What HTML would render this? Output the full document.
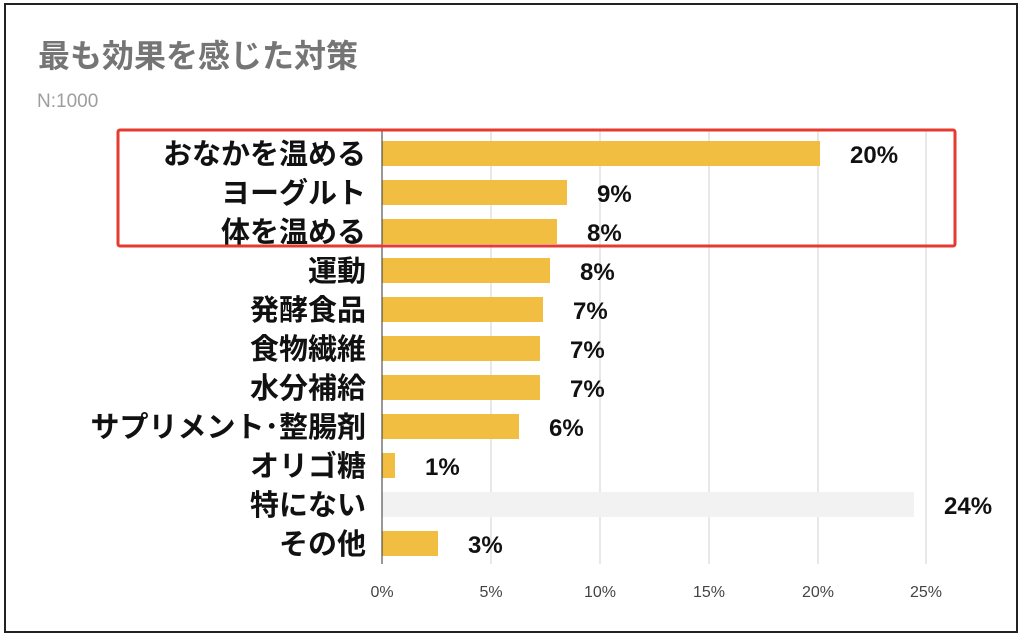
<!DOCTYPE html>
<html><head><meta charset="utf-8"><style>
html,body{margin:0;padding:0;background:#fff;}
svg{display:block;}
text{font-family:"Liberation Sans","Noto Sans CJK JP",sans-serif;}
</style></head><body>
<svg width="1024" height="638" viewBox="0 0 1024 638" xmlns="http://www.w3.org/2000/svg">
<rect x="0" y="0" width="1024" height="638" fill="#fff"/>
<rect x="5" y="4" width="1012" height="628" fill="none" stroke="#222" stroke-width="2"/>
<text x="38" y="67" font-size="32" font-weight="bold" fill="#757575">最も効果を感じた対策</text>
<text x="37" y="107" font-size="19" fill="#9e9e9e">N:1000</text>
<g stroke="#d0d0d0" stroke-width="1">
<line x1="491" y1="131" x2="491" y2="564"/>
<line x1="600" y1="131" x2="600" y2="564"/>
<line x1="709" y1="131" x2="709" y2="564"/>
<line x1="818" y1="131" x2="818" y2="564"/>
<line x1="926" y1="131" x2="926" y2="564"/>
</g>
<g fill="#f1be42">
<rect x="382" y="141" width="438" height="25"/>
<rect x="382" y="180" width="185" height="25"/>
<rect x="382" y="219" width="175" height="25"/>
<rect x="382" y="258" width="168" height="25"/>
<rect x="382" y="297" width="161" height="25"/>
<rect x="382" y="336" width="158" height="25"/>
<rect x="382" y="375" width="158" height="25"/>
<rect x="382" y="414" width="137" height="25"/>
<rect x="382" y="453" width="13" height="25"/>
<rect x="382" y="531" width="56" height="25"/>
</g>
<rect x="382" y="492" width="532" height="25" fill="#f2f2f2"/>
<line x1="382" y1="131" x2="382" y2="564" stroke="#333" stroke-width="1"/>
<g font-size="29" font-weight="bold" fill="#111" text-anchor="end">
<text x="366" y="164">おなかを温める</text>
<text x="366" y="203">ヨーグルト</text>
<text x="366" y="242">体を温める</text>
<text x="366" y="281">運動</text>
<text x="366" y="320">発酵食品</text>
<text x="366" y="359">食物繊維</text>
<text x="366" y="398">水分補給</text>
<text x="366" y="437">サプリメント･整腸剤</text>
<text x="366" y="476">オリゴ糖</text>
<text x="366" y="515">特にない</text>
<text x="366" y="554">その他</text>
</g>
<g font-size="24" font-weight="bold" fill="#111">
<text x="850" y="163">20%</text>
<text x="597" y="202">9%</text>
<text x="587" y="241">8%</text>
<text x="580" y="280">8%</text>
<text x="573" y="319">7%</text>
<text x="570" y="358">7%</text>
<text x="570" y="397">7%</text>
<text x="549" y="436">6%</text>
<text x="425" y="475">1%</text>
<text x="944" y="514">24%</text>
<text x="468" y="553">3%</text>
</g>
<g font-size="16" fill="#444" text-anchor="middle">
<text x="382" y="597">0%</text>
<text x="491" y="597">5%</text>
<text x="600" y="597">10%</text>
<text x="709" y="597">15%</text>
<text x="818" y="597">20%</text>
<text x="926" y="597">25%</text>
</g>
<rect x="118" y="130" width="837" height="116" fill="none" stroke="#e53a2f" stroke-width="3" rx="2"/>
</svg>
</body></html>
